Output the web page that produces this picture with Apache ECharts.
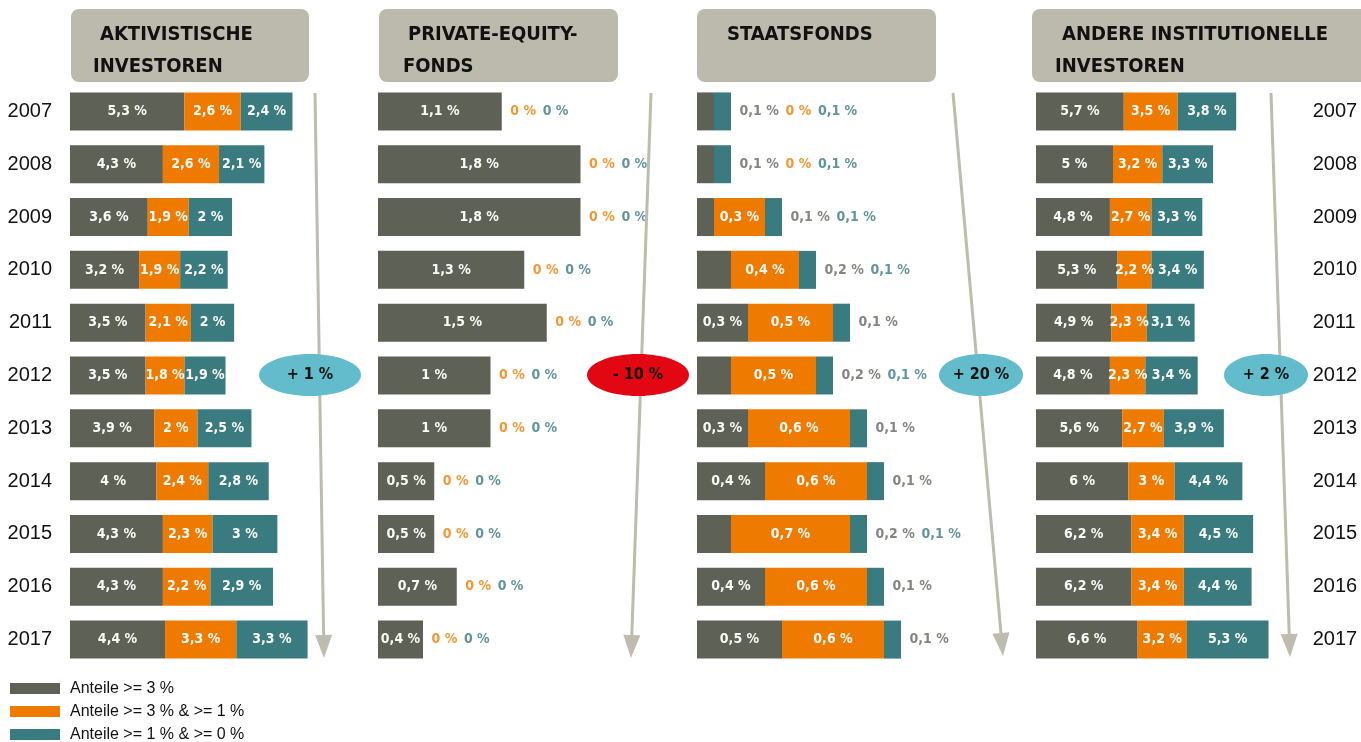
<!DOCTYPE html>
<html>
<head>
<meta charset="utf-8">
<script src="https://cdn.jsdelivr.net/npm/echarts@6/dist/echarts.min.js"></script>
<style>
  html, body { margin: 0; padding: 0; background: #fff; }
  #chart { width: 1361px; height: 742px; }
</style>
</head>
<body>
<div id="chart"></div>
<script>
// data (shares in %)
const years = ['2007', '2008', '2009', '2010', '2011', '2012', '2013', '2014', '2015', '2016', '2017'];

const aktHigh = [5.3, 4.3, 3.6, 3.2, 3.5, 3.5, 3.9, 4, 4.3, 4.3, 4.4];
const aktMid = [2.6, 2.6, 1.9, 1.9, 2.1, 1.8, 2, 2.4, 2.3, 2.2, 3.3];
const aktLow = [2.4, 2.1, 2, 2.2, 2, 1.9, 2.5, 2.8, 3, 2.9, 3.3];

const peHigh = [1.1, 1.8, 1.8, 1.3, 1.5, 1, 1, 0.5, 0.5, 0.7, 0.4];
const peMid = [0, 0, 0, 0, 0, 0, 0, 0, 0, 0, 0];
const peLow = [0, 0, 0, 0, 0, 0, 0, 0, 0, 0, 0];

const sfHigh = [0.1, 0.1, 0.1, 0.2, 0.3, 0.2, 0.3, 0.4, 0.2, 0.4, 0.5];
const sfMid = [0, 0, 0.3, 0.4, 0.5, 0.5, 0.6, 0.6, 0.7, 0.6, 0.6];
const sfLow = [0.1, 0.1, 0.1, 0.1, 0.1, 0.1, 0.1, 0.1, 0.1, 0.1, 0.1];

const andHigh = [5.7, 5.0, 4.8, 5.3, 4.9, 4.8, 5.6, 6, 6.2, 6.2, 6.6];
const andMid = [3.5, 3.2, 2.7, 2.2, 2.3, 2.3, 2.7, 3, 3.4, 3.4, 3.2];
const andLow = [3.8, 3.3, 3.3, 3.4, 3.1, 3.4, 3.9, 4.4, 4.5, 4.4, 5.3];

const titles = [
  ['AKTIVISTISCHE', 'INVESTOREN'],
  ['PRIVATE-EQUITY-', 'FONDS'],
  ['STAATSFONDS'],
  ['ANDERE INSTITUTIONELLE', 'INVESTOREN']
];
const changes = ['+ 1 %', '- 10 %', '+ 20 %', '+ 2 %'];
const seriesNames = ['Anteile >= 3 %', 'Anteile >= 3 % & >= 1 %', 'Anteile >= 1 % & >= 0 %'];

const colors = ['#5e6156', '#ef7a00', '#3a7b80'];
const textColors = ['#66675f', '#ef7d00', '#3a7a82'];
const numFont = '"DejaVu Sans Condensed", "DejaVu Sans", sans-serif';
const plainFont = '"Liberation Sans Narrow", "Liberation Sans", Arial, sans-serif';

// layout of the four panels
const panels = [
  { vals: [aktHigh, aktMid, aktLow], left: 70, max: 11.5, px: 21.6, box: [71, 238], tx: [100, 93] },
  { vals: [peHigh, peMid, peLow], left: 378, max: 1.9, px: 112.5, box: [379, 239], tx: [408, 403] },
  { vals: [sfHigh, sfMid, sfLow], left: 697, max: 1.3, px: 170, box: [697, 239], tx: [727] },
  { vals: [andHigh, andMid, andLow], left: 1036, max: 15.5, px: 15.4, box: [1032, 340], tx: [1062, 1055] }
];
const arrows = [[315, 93, 324, 658], [651, 93, 631, 658], [953, 93, 1003, 656], [1271, 93, 1290, 657]];
const ovals = [[310, 375, 51], [638, 375, 51], [981, 375, 42], [1266, 375, 42]];

const fmt = v => String(v).replace('.', ',') + ' %';
const inside = v => v > 0.25;

var myChart = echarts.init(document.getElementById('chart'));

var grids = [], xAxes = [], yAxes = [], series = [], graphics = [];

panels.forEach((p, i) => {
  grids.push({ left: p.left, top: 85, width: p.max * p.px, height: 581 });
  xAxes.push({ type: 'value', gridIndex: i, min: 0, max: p.max, show: false });
  yAxes.push({
    type: 'category',
    gridIndex: i,
    data: years,
    inverse: true,
    position: i === 3 ? 'right' : 'left',
    axisLine: { show: false },
    axisTick: { show: false },
    axisLabel: {
      show: i === 0 || i === 3,
      margin: i === 3 ? 38 : 18,
      fontFamily: plainFont,
      fontSize: 20,
      color: '#111'
    }
  });

  p.vals.forEach((arr, k) => {
    series.push({
      type: 'bar',
      name: seriesNames[k],
      stack: 'p' + i,
      xAxisIndex: i,
      yAxisIndex: i,
      barWidth: 38,
      data: arr,
      itemStyle: { color: colors[k] },
      label: {
        show: true,
        position: 'inside',
        formatter: q => (inside(q.value) ? fmt(q.value) : ''),
        color: '#fafaf7',
        fontFamily: numFont,
        fontWeight: 'bold',
        fontSize: 14
      }
    });
  });

  // labels of the segments that are too small, written after the bar
  var outside = years.map((y, j) => {
    var parts = [];
    p.vals.forEach((arr, k) => {
      if (!inside(arr[j])) parts.push([k, arr[j]]);
    });
    if (parts.length === 1 && parts[0][0] === 2) parts[0][0] = 0;
    return parts.map(t => '{' + 'got'[t[0]] + '|' + fmt(t[1]) + '}').join('  ');
  });
  var richStyle = c => ({ color: c, fontFamily: numFont, fontWeight: 'bold', fontSize: 14 });
  series.push({
    type: 'scatter',
    xAxisIndex: i,
    yAxisIndex: i,
    silent: true,
    symbolSize: 1,
    itemStyle: { color: 'rgba(0,0,0,0)' },
    data: years.map((y, j) => [p.vals[0][j] + p.vals[1][j] + p.vals[2][j], j]),
    label: {
      show: true,
      position: 'right',
      distance: 8,
      formatter: q => outside[q.dataIndex],
      rich: { g: richStyle(textColors[0]), o: richStyle(textColors[1]), t: richStyle(textColors[2]) }
    }
  });

  // header box
  graphics.push({
    type: 'rect',
    shape: { x: p.box[0], y: 9, width: p.box[1], height: 73, r: 8 },
    style: { fill: '#bcbaac' },
    z: 1
  });
  titles[i].forEach((t, n) => {
    graphics.push({
      type: 'text',
      style: {
        text: t,
        x: p.tx[n],
        y: n === 0 ? 35 : 67,
        verticalAlign: 'middle',
        font: 'bold 20px "DejaVu Sans Condensed", "DejaVu Sans", sans-serif',
        fill: '#111'
      },
      z: 2
    });
  });

  // trend arrow
  var a = arrows[i];
  var dx = a[2] - a[0], dy = a[3] - a[1], len = Math.sqrt(dx * dx + dy * dy);
  var ux = dx / len, uy = dy / len;
  var bx = a[2] - ux * 23, by = a[3] - uy * 23;
  graphics.push({
    type: 'line',
    shape: { x1: a[0], y1: a[1], x2: bx, y2: by },
    style: { stroke: '#bdbcae', lineWidth: 3 },
    z: 3
  });
  graphics.push({
    type: 'polygon',
    shape: { points: [[a[2], a[3]], [bx - uy * 8.5, by + ux * 8.5], [bx + uy * 8.5, by - ux * 8.5]] },
    style: { fill: '#bdbcae' },
    z: 3
  });

  // change badge
  var o = ovals[i];
  graphics.push({
    type: 'ellipse',
    shape: { cx: o[0], cy: o[1], rx: o[2], ry: 21 },
    style: { fill: i === 1 ? '#e30613' : '#62bccb' },
    z: 4
  });
  graphics.push({
    type: 'text',
    style: {
      text: changes[i],
      x: o[0],
      y: o[1],
      align: 'center',
      verticalAlign: 'middle',
      font: 'bold 16px "DejaVu Sans Condensed", "DejaVu Sans", sans-serif',
      fill: '#111'
    },
    z: 5
  });
});

var option = {
  animation: false,
  legend: {
    data: seriesNames,
    orient: 'vertical',
    left: 10,
    top: 680,
    height: 80,
    padding: 0,
    icon: 'rect',
    itemWidth: 50,
    itemHeight: 11,
    itemGap: 6,
    selectedMode: false,
    textStyle: {
      fontFamily: plainFont,
      fontSize: 16,
      color: '#111',
      lineHeight: 17,
      padding: [0, 0, 0, 5]
    }
  },
  grid: grids,
  xAxis: xAxes,
  yAxis: yAxes,
  series: series,
  graphic: graphics
};

myChart.setOption(option);
</script>
</body>
</html>
